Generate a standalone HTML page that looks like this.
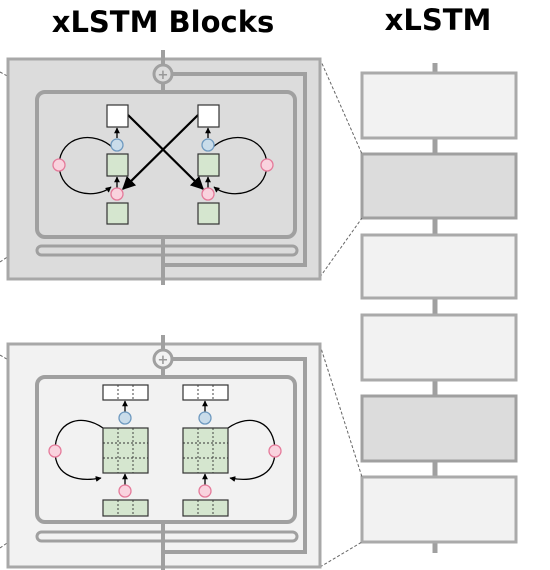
<!DOCTYPE html>
<html><head><meta charset="utf-8"><style>
html,body{margin:0;padding:0;background:#fff;width:550px;height:570px;overflow:hidden}
text{font-family:"DejaVu Sans","Liberation Sans",sans-serif;font-weight:bold}
</style></head><body>
<svg width="550" height="570" viewBox="0 0 550 570" xmlns="http://www.w3.org/2000/svg">
<defs>
<marker id="ah" viewBox="0 0 10 10" refX="9" refY="5" markerWidth="6" markerHeight="6" orient="auto"><path d="M0,0L10,5L0,10z" fill="#000"/></marker>
<marker id="ah2" viewBox="0 0 10 10" refX="9" refY="5" markerWidth="4.5" markerHeight="4.5" orient="auto"><path d="M0,0L10,5L0,10z" fill="#000"/></marker>
</defs>
<text x="163" y="32" font-size="29" text-anchor="middle">xLSTM Blocks</text>
<text x="438" y="30" font-size="29" text-anchor="middle">xLSTM</text>

<line x1="435" y1="63" x2="435" y2="553" stroke="#a0a0a0" stroke-width="5"/>
<g stroke="#aaa" stroke-width="3">
<rect x="362" y="73" width="154" height="65" fill="#f2f2f2"/>
<rect x="362" y="154" width="154" height="64" fill="#dcdcdc" stroke="#a0a0a0"/>
<rect x="362" y="235" width="154" height="63" fill="#f2f2f2"/>
<rect x="362" y="315" width="154" height="65" fill="#f2f2f2"/>
<rect x="362" y="396" width="154" height="65" fill="#dcdcdc" stroke="#a0a0a0"/>
<rect x="362" y="477" width="154" height="65" fill="#f2f2f2"/>
</g>
<g stroke="#666" stroke-width="1" stroke-dasharray="3,2" fill="none">
<line x1="320" y1="59" x2="362" y2="154"/><line x1="320" y1="277" x2="362" y2="218"/>
<line x1="320" y1="345" x2="362" y2="477"/><line x1="320" y1="567" x2="362" y2="542"/>
<line x1="0" y1="72" x2="37" y2="92"/><line x1="0" y1="262" x2="37" y2="237"/>
<line x1="0" y1="355" x2="37" y2="377"/><line x1="0" y1="548" x2="37" y2="522"/>
</g>

<g>
<rect x="8" y="59" width="312" height="220" fill="#dcdcdc" stroke="#a8a8a8" stroke-width="3"/>
<line x1="163" y1="50" x2="163" y2="285" stroke="#a0a0a0" stroke-width="4"/>
<polyline points="163,74 305,74 305,265 163,265" fill="none" stroke="#a0a0a0" stroke-width="4"/>
<rect x="37" y="92" width="258" height="145" rx="8" fill="#dcdcdc" stroke="#a0a0a0" stroke-width="4"/>
<rect x="37" y="246" width="260" height="9" rx="4.5" fill="#dcdcdc" stroke="#a0a0a0" stroke-width="3"/>
<line x1="163" y1="237" x2="163" y2="285" stroke="#a0a0a0" stroke-width="4"/>
<circle cx="163" cy="74" r="9" fill="#dcdcdc" stroke="#a0a0a0" stroke-width="3"/>
<text x="163" y="79" font-size="13" text-anchor="middle" fill="#999">+</text>
<g stroke="#000" stroke-width="1.3" fill="none">
<path d="M113,148 C95,130 60,135 59,165 C60,195 95,200 111,187" marker-end="url(#ah2)"/>
<path d="M212,148 C230,130 266,135 267,165 C266,195 230,200 214,187" marker-end="url(#ah2)"/>
<line x1="117" y1="138" x2="117" y2="128" marker-end="url(#ah2)"/>
<line x1="208" y1="138" x2="208" y2="128" marker-end="url(#ah2)"/>
<line x1="117" y1="188" x2="117" y2="177" marker-end="url(#ah2)"/>
<line x1="208" y1="188" x2="208" y2="177" marker-end="url(#ah2)"/>
</g>
<g stroke="#000" stroke-width="2.2" fill="none">
<line x1="128" y1="115" x2="203" y2="189" marker-end="url(#ah)"/>
<line x1="198" y1="115" x2="123" y2="189" marker-end="url(#ah)"/>
</g>
<g stroke="#333" stroke-width="1.2">
<rect x="107" y="105" width="21" height="22" fill="#fff"/>
<rect x="198" y="105" width="21" height="22" fill="#fff"/>
<rect x="107" y="154" width="21" height="22" fill="#d5e6cf"/>
<rect x="198" y="154" width="21" height="22" fill="#d5e6cf"/>
<rect x="107" y="203" width="21" height="21" fill="#d5e6cf"/>
<rect x="198" y="203" width="21" height="21" fill="#d5e6cf"/>
</g>
<g stroke-width="1.3">
<circle cx="117" cy="145" r="6" fill="#c9dcea" stroke="#6f9ac0"/>
<circle cx="208" cy="145" r="6" fill="#c9dcea" stroke="#6f9ac0"/>
<circle cx="117" cy="194" r="6" fill="#f9d3de" stroke="#e57a9a"/>
<circle cx="208" cy="194" r="6" fill="#f9d3de" stroke="#e57a9a"/>
<circle cx="59" cy="165" r="6" fill="#f9d3de" stroke="#e57a9a"/>
<circle cx="267" cy="165" r="6" fill="#f9d3de" stroke="#e57a9a"/>
</g>
</g>

<g>
<rect x="8" y="344" width="312" height="223" fill="#f2f2f2" stroke="#a8a8a8" stroke-width="3"/>
<line x1="163" y1="335" x2="163" y2="570" stroke="#a0a0a0" stroke-width="4"/>
<polyline points="163,359 305,359 305,552 163,552" fill="none" stroke="#a0a0a0" stroke-width="4"/>
<rect x="37" y="377" width="258" height="145" rx="8" fill="#f2f2f2" stroke="#a0a0a0" stroke-width="4"/>
<rect x="37" y="532" width="260" height="9" rx="4.5" fill="#f2f2f2" stroke="#a0a0a0" stroke-width="3"/>
<line x1="163" y1="522" x2="163" y2="570" stroke="#a0a0a0" stroke-width="4"/>
<circle cx="163" cy="359" r="9" fill="#f2f2f2" stroke="#a0a0a0" stroke-width="3"/>
<text x="163" y="364" font-size="13" text-anchor="middle" fill="#999">+</text>
<g stroke="#000" stroke-width="1.3" fill="none">
<path d="M103,428 C80,412 55,422 55,451 C55,478 80,482 101,478" marker-end="url(#ah2)"/>
<path d="M228,428 C251,412 275,422 275,451 C275,478 250,482 230,478" marker-end="url(#ah2)"/>
<line x1="125" y1="412" x2="125" y2="401" marker-end="url(#ah2)"/>
<line x1="205" y1="412" x2="205" y2="401" marker-end="url(#ah2)"/>
<line x1="125" y1="485" x2="125" y2="474" marker-end="url(#ah2)"/>
<line x1="205" y1="485" x2="205" y2="474" marker-end="url(#ah2)"/>
</g>
<g stroke="#333" stroke-width="1.2">
<rect x="103" y="385" width="45" height="15" fill="#fff"/>
<rect x="183" y="385" width="45" height="15" fill="#fff"/>
<rect x="103" y="428" width="45" height="45" fill="#d5e6cf"/>
<rect x="183" y="428" width="45" height="45" fill="#d5e6cf"/>
<rect x="103" y="500" width="45" height="16" fill="#d5e6cf"/>
<rect x="183" y="500" width="45" height="16" fill="#d5e6cf"/>
</g>
<g stroke="#333" stroke-width="0.9" stroke-dasharray="2,2">
<path d="M118,385V400M133,385V400M198,385V400M213,385V400"/>
<path d="M118,500V516M133,500V516M198,500V516M213,500V516"/>
<path d="M118,428V473M133,428V473M198,428V473M213,428V473M103,443H148M103,458H148M183,443H228M183,458H228"/>
</g>
<g stroke-width="1.3">
<circle cx="125" cy="418" r="6" fill="#c9dcea" stroke="#6f9ac0"/>
<circle cx="205" cy="418" r="6" fill="#c9dcea" stroke="#6f9ac0"/>
<circle cx="125" cy="491" r="6" fill="#f9d3de" stroke="#e57a9a"/>
<circle cx="205" cy="491" r="6" fill="#f9d3de" stroke="#e57a9a"/>
<circle cx="55" cy="451" r="6" fill="#f9d3de" stroke="#e57a9a"/>
<circle cx="275" cy="451" r="6" fill="#f9d3de" stroke="#e57a9a"/>
</g>
</g>
</svg>
</body></html>
